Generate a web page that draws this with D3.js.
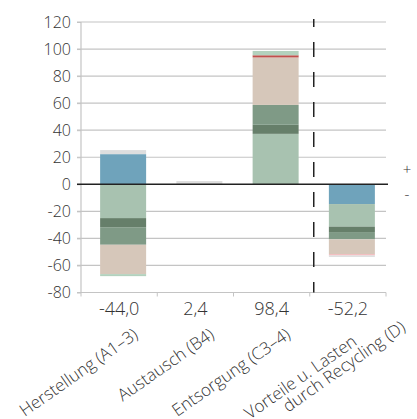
<!DOCTYPE html>
<html><head><meta charset="utf-8">
<script src="https://cdn.jsdelivr.net/npm/d3@7"></script>
<style>body{margin:0;background:#fff}text{font-family:"Open Sans",sans-serif;font-weight:300;fill:#333}</style>
</head><body><svg id="c" width="417" height="419"></svg>
<script>
const categories = ["Herstellung (A1–3)", "Austausch (B4)", "Entsorgung (C3–4)", "Vorteile u. Lasten|durch Recycling (D)"];
const totalLabels = ["-44,0", "2,4", "98,4", "-52,2"];
const yTicks = [-80, -60, -40, -20, 0, 20, 40, 60, 80, 100, 120];
// stacked components (order from zero outward)
const blue        = [22.3, 0, 0, -14.6];
const lightGreen  = [-25.0, 0, 37.3, -16.7];
const darkGreen   = [-6.7, 0, 6.7, -4.0];
const midGreen    = [-13.0, 0, 14.7, -5.4];
const beige       = [-21.7, 0, 35.1, -10.9];
const red         = [0, 0, 1.6, 0];
const pink        = [0, 0, 0, -1.0];
const paleGreen   = [-1.5, 0, 3.2, 0];
const grey        = [3.0, 2.4, 0, -1.1];

const seriesKeys = ["blue","lightGreen","darkGreen","midGreen","beige","red","pink","paleGreen","grey"];
const seriesVals = {blue, lightGreen, darkGreen, midGreen, beige, red, pink, paleGreen, grey};
const colors = {blue:"#6fa3bb", lightGreen:"#a8c2b0", darkGreen:"#667f6a", midGreen:"#7f9a86",
  beige:"#d6c7ba", red:"#c0504d", pink:"#f2b9bc", paleGreen:"#b3d1bd", grey:"#dedede"};

const table = categories.map((c,i)=>{const o={cat:c}; seriesKeys.forEach(k=>o[k]=seriesVals[k][i]); return o;});
const stacked = d3.stack().keys(seriesKeys).offset(d3.stackOffsetDiverging)(table);

const svg = d3.select("#c");
const x = d3.scaleBand().domain(categories).range([81, 386]).padding(0);
const y = d3.scaleLinear().domain([-80, 120]).range([292.5, 22]);
const barW = 46, barShift = 4;

// gridlines
svg.append("g").selectAll("line").data(yTicks.filter(t=>t!==0)).join("line")
  .attr("x1", 77).attr("x2", 386).attr("y1", d=>y(d)).attr("y2", d=>y(d))
  .attr("stroke", "#c4c4c4").attr("stroke-width", 1.2);
// y axis
const ya = svg.append("g").attr("transform","translate(81,0)")
  .call(d3.axisLeft(y).tickValues(yTicks).tickSize(4).tickPadding(6).tickFormat(d=>d));
ya.select(".domain").attr("stroke","#c4c4c4").attr("stroke-width",1.2).attr("d", `M0,${y(120)}V${y(-80)}`);
ya.selectAll(".tick line").attr("stroke","#c4c4c4");
ya.selectAll("text").style("font-size","16px").attr("fill","#333").style("font-family","'Open Sans',sans-serif").style("font-weight","300");

// bottom category ticks
svg.append("g").selectAll("line").data([...categories.map(c=>x(c)), 386]).join("line")
  .attr("x1", d=>d).attr("x2", d=>d).attr("y1", y(-80)).attr("y2", y(-80)+4)
  .attr("stroke","#c4c4c4");

// bars
svg.append("g").selectAll("g").data(stacked).join("g").attr("fill", d=>colors[d.key])
  .selectAll("rect").data(d=>d).join("rect")
  .attr("x", d=>x(d.data.cat)+x.bandwidth()/2+barShift-barW/2).attr("width", barW)
  .attr("y", d=>y(Math.max(d[0],d[1]))).attr("height", d=>Math.abs(y(d[0])-y(d[1])));

// zero line
svg.append("line").attr("x1",77).attr("x2",388).attr("y1",y(0)).attr("y2",y(0))
  .attr("stroke","#222").attr("stroke-width",1.5);

// dashed separator
const sepX = (x(categories[2])+x(categories[3]))/2 + x.bandwidth()/2 + barShift;
svg.append("line").attr("x1",sepX).attr("x2",sepX).attr("y1",19).attr("y2",y(-80))
  .attr("stroke","#222").attr("stroke-width",1.5).attr("stroke-dasharray","15,15").attr("stroke-dashoffset",7);

// + / -
svg.append("text").attr("x",407).attr("y",175).attr("text-anchor","middle").style("font-size","15px").text("+");
svg.append("text").attr("x",407).attr("y",199).attr("text-anchor","middle").style("font-size","15px").text("-");

// totals
svg.append("g").selectAll("text").data(categories).join("text")
  .attr("x", d=>x(d)+x.bandwidth()/2).attr("y", 315).attr("text-anchor","middle")
  .style("font-size","18px").text((d,i)=>totalLabels[i]);

// category labels
const cl = svg.append("g").selectAll("text").data(categories).join("text")
  .attr("transform", d=>`translate(${x(d)+x.bandwidth()/2+20},337) rotate(-35)`)
  .attr("text-anchor","end").style("font-size","17px");
cl.each(function(d){
  const parts = d.split("|"); const t = d3.select(this);
  parts.forEach((p,j)=>t.append("tspan").attr("x", parts.length>1 ? (j===0?-12:36) : 0)
    .attr("dy", j===0?0:"0.95em").text(p));
});
</script></body></html>
